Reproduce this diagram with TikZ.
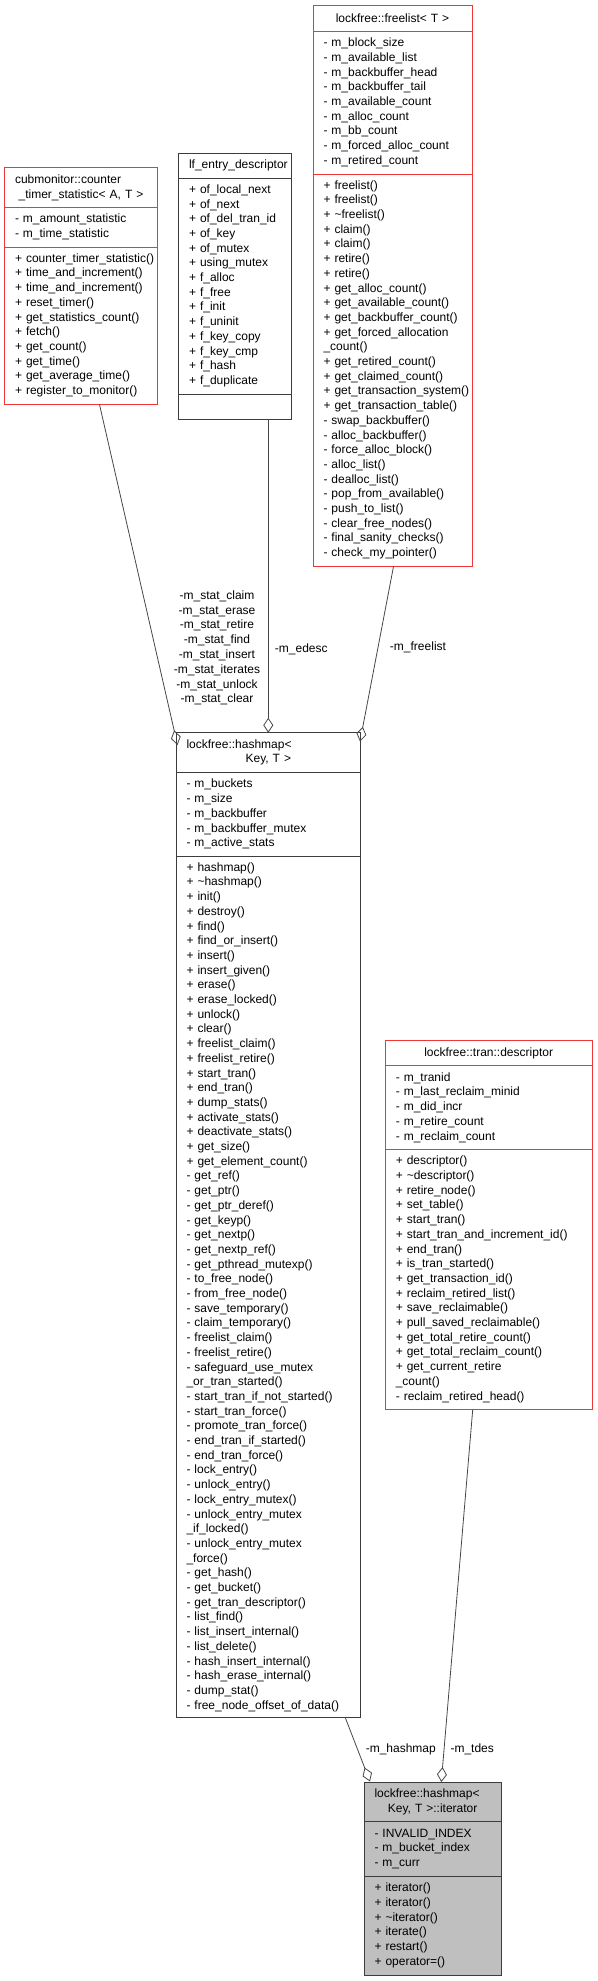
\documentclass[tikz,border=0pt]{standalone}
\usepackage{fontspec}
\setmainfont{Liberation Sans}
\usetikzlibrary{arrows.meta}
\definecolor{cred}{RGB}{240,55,55}
\definecolor{cblk}{RGB}{60,60,60}
\definecolor{cedge}{RGB}{70,70,70}
\definecolor{cfill}{RGB}{191,191,191}
\newcommand\fsz{\fontsize{12}{14.7}\selectfont}
\newcommand\rows[1]{\begin{tabular}{@{}l@{}}#1\end{tabular}}
\tikzset{
  sec/.style={draw=#1, line width=0.9pt, anchor=north west, inner xsep=10.5pt, inner ysep=0pt, align=left, font=\fsz, outer sep=0pt},
  ttl/.style={sec=#1, align=center},
  agg/.style={draw=cedge, line width=0.8pt, -{Diamond[open, length=15pt, width=10pt]}},
  lbl/.style={font=\fsz, align=center, inner sep=0pt},
}
\begin{document}
\begin{tikzpicture}[x=1pt, y=-1pt]
\useasboundingbox (0,0) rectangle (597,1981);

% cubmonitor::counter_timer_statistic
\node[ttl=cred, text width=132pt, minimum height=40pt] (cnt-t) at (4.5,167.5)
 {\makebox[\hsize][l]{cubmonitor::counter}\\\_timer\_statistic< A, T >};
\node[sec=cred, text width=132pt, minimum height=39.5pt] (cnt-a) at (cnt-t.south west)
 {\rows{- m\_amount\_statistic\\- m\_time\_statistic}};
\node[sec=cred, text width=132pt, minimum height=157pt] (cnt-m) at (cnt-a.south west)
 {\rows{+ counter\_timer\_statistic()\\+ time\_and\_increment()\\+ time\_and\_increment()\\+ reset\_timer()\\+ get\_statistics\_count()\\+ fetch()\\+ get\_count()\\+ get\_time()\\+ get\_average\_time()\\+ register\_to\_monitor()}};

% lf_entry_descriptor
\node[ttl=cblk, text width=92pt, minimum height=25pt] (lf-t) at (178.5,153)
 {lf\_entry\_descriptor};
\node[sec=cblk, text width=92pt, minimum height=216pt] (lf-a) at (lf-t.south west)
 {\rows{+ of\_local\_next\\+ of\_next\\+ of\_del\_tran\_id\\+ of\_key\\+ of\_mutex\\+ using\_mutex\\+ f\_alloc\\+ f\_free\\+ f\_init\\+ f\_uninit\\+ f\_key\_copy\\+ f\_key\_cmp\\+ f\_hash\\+ f\_duplicate}};
\node[sec=cblk, text width=92pt, minimum height=25pt] (lf-m) at (lf-a.south west) {};

% lockfree::freelist< T >
\node[ttl=cred, text width=138pt, minimum height=25.5pt] (fl-t) at (313,5.5)
 {lockfree::freelist< T >};
\node[sec=cred, text width=138pt, minimum height=143pt] (fl-a) at (fl-t.south west)
 {\rows{- m\_block\_size\\- m\_available\_list\\- m\_backbuffer\_head\\- m\_backbuffer\_tail\\- m\_available\_count\\- m\_alloc\_count\\- m\_bb\_count\\- m\_forced\_alloc\_count\\- m\_retired\_count}};
\node[sec=cred, text width=138pt, minimum height=392pt] (fl-m) at (fl-a.south west)
 {\rows{+ freelist()\\+ freelist()\\+ \textasciitilde freelist()\\+ claim()\\+ claim()\\+ retire()\\+ retire()\\+ get\_alloc\_count()\\+ get\_available\_count()\\+ get\_backbuffer\_count()\\+ get\_forced\_allocation\\\_count()\\+ get\_retired\_count()\\+ get\_claimed\_count()\\+ get\_transaction\_system()\\+ get\_transaction\_table()\\- swap\_backbuffer()\\- alloc\_backbuffer()\\- force\_alloc\_block()\\- alloc\_list()\\- dealloc\_list()\\- pop\_from\_available()\\- push\_to\_list()\\- clear\_free\_nodes()\\- final\_sanity\_checks()\\- check\_my\_pointer()}};

% lockfree::hashmap< Key, T >
\node[ttl=cblk, text width=163.7pt, minimum height=39.3pt] (hm-t) at (176,732.7)
 {\makebox[\hsize][l]{lockfree::hashmap<}\\Key, T >};
\node[sec=cblk, text width=163.7pt, minimum height=84.7pt] (hm-a) at (hm-t.south west)
 {\rows{- m\_buckets\\- m\_size\\- m\_backbuffer\\- m\_backbuffer\_mutex\\- m\_active\_stats}};
\node[sec=cblk, text width=163.7pt, minimum height=861pt] (hm-m) at (hm-a.south west)
 {\rows{+ hashmap()\\+ \textasciitilde hashmap()\\+ init()\\+ destroy()\\+ find()\\+ find\_or\_insert()\\+ insert()\\+ insert\_given()\\+ erase()\\+ erase\_locked()\\+ unlock()\\+ clear()\\+ freelist\_claim()\\+ freelist\_retire()\\+ start\_tran()\\+ end\_tran()\\+ dump\_stats()\\+ activate\_stats()\\+ deactivate\_stats()\\+ get\_size()\\+ get\_element\_count()\\- get\_ref()\\- get\_ptr()\\- get\_ptr\_deref()\\- get\_keyp()\\- get\_nextp()\\- get\_nextp\_ref()\\- get\_pthread\_mutexp()\\- to\_free\_node()\\- from\_free\_node()\\- save\_temporary()\\- claim\_temporary()\\- freelist\_claim()\\- freelist\_retire()\\- safeguard\_use\_mutex\\\_or\_tran\_started()\\- start\_tran\_if\_not\_started()\\- start\_tran\_force()\\- promote\_tran\_force()\\- end\_tran\_if\_started()\\- end\_tran\_force()\\- lock\_entry()\\- unlock\_entry()\\- lock\_entry\_mutex()\\- unlock\_entry\_mutex\\\_if\_locked()\\- unlock\_entry\_mutex\\\_force()\\- get\_hash()\\- get\_bucket()\\- get\_tran\_descriptor()\\- list\_find()\\- list\_insert\_internal()\\- list\_delete()\\- hash\_insert\_internal()\\- hash\_erase\_internal()\\- dump\_stat()\\- free\_node\_offset\_of\_data()}};

% lockfree::tran::descriptor
\node[ttl=cred, text width=185.7pt, minimum height=25pt] (td-t) at (385.3,1040.7)
 {lockfree::tran::descriptor};
\node[sec=cred, text width=185.7pt, minimum height=84pt] (td-a) at (td-t.south west)
 {\rows{- m\_tranid\\- m\_last\_reclaim\_minid\\- m\_did\_incr\\- m\_retire\_count\\- m\_reclaim\_count}};
\node[sec=cred, text width=185.7pt, minimum height=259.6pt] (td-m) at (td-a.south west)
 {\rows{+ descriptor()\\+ \textasciitilde descriptor()\\+ retire\_node()\\+ set\_table()\\+ start\_tran()\\+ start\_tran\_and\_increment\_id()\\+ end\_tran()\\+ is\_tran\_started()\\+ get\_transaction\_id()\\+ reclaim\_retired\_list()\\+ save\_reclaimable()\\+ pull\_saved\_reclaimable()\\+ get\_total\_retire\_count()\\+ get\_total\_reclaim\_count()\\+ get\_current\_retire\\\_count()\\- reclaim\_retired\_head()}};

% lockfree::hashmap< Key, T >::iterator
\node[ttl=cblk, fill=cfill, text width=116.3pt, minimum height=39.7pt] (it-t) at (364,1782)
 {\makebox[\hsize][l]{lockfree::hashmap<}\\Key, T >::iterator};
\node[sec=cblk, fill=cfill, text width=116.3pt, minimum height=54.3pt] (it-a) at (it-t.south west)
 {\rows{- INVALID\_INDEX\\- m\_bucket\_index\\- m\_curr}};
\node[sec=cblk, fill=cfill, text width=116.3pt, minimum height=99pt] (it-m) at (it-a.south west)
 {\rows{+ iterator()\\+ iterator()\\+ \textasciitilde iterator()\\+ iterate()\\+ restart()\\+ operator=()}};

% connector end points
\coordinate (e1a) at (99.5,404.5);
\coordinate (e1b) at (177.5,745);
\coordinate (e2a) at (268.3,419.5);
\coordinate (e2b) at (268.3,732.7);
\coordinate (e3a) at (393.5,566.5);
\coordinate (e3b) at (360,741.5);
\coordinate (e4a) at (345.5,1718.2);
\coordinate (e4b) at (370,1781.5);
\coordinate (e5a) at (472.7,1409.8);
\coordinate (e5b) at (441.3,1782);

\draw[agg] (e1a) -- (e1b);
\draw[agg] (e2a) -- (e2b);
\draw[agg] (e3a) -- (e3b);
\draw[agg] (e4a) -- (e4b);
\draw[agg] (e5a) -- (e5b);

% connector labels
\node[lbl, font=\fontsize{12}{14.8}\selectfont] (l-stat) at (217,648)
 {-m\_stat\_claim\\-m\_stat\_erase\\-m\_stat\_retire\\-m\_stat\_find\\-m\_stat\_insert\\-m\_stat\_iterates\\-m\_stat\_unlock\\-m\_stat\_clear};
\node[lbl] (l-edesc) at (301.3,649) {-m\_edesc};
\node[lbl] (l-free) at (418,647.5) {-m\_freelist};
\node[lbl] (l-hm) at (400.8,1749) {-m\_hashmap};
\node[lbl] (l-tdes) at (472.2,1749) {-m\_tdes};
\end{tikzpicture}
\end{document}
